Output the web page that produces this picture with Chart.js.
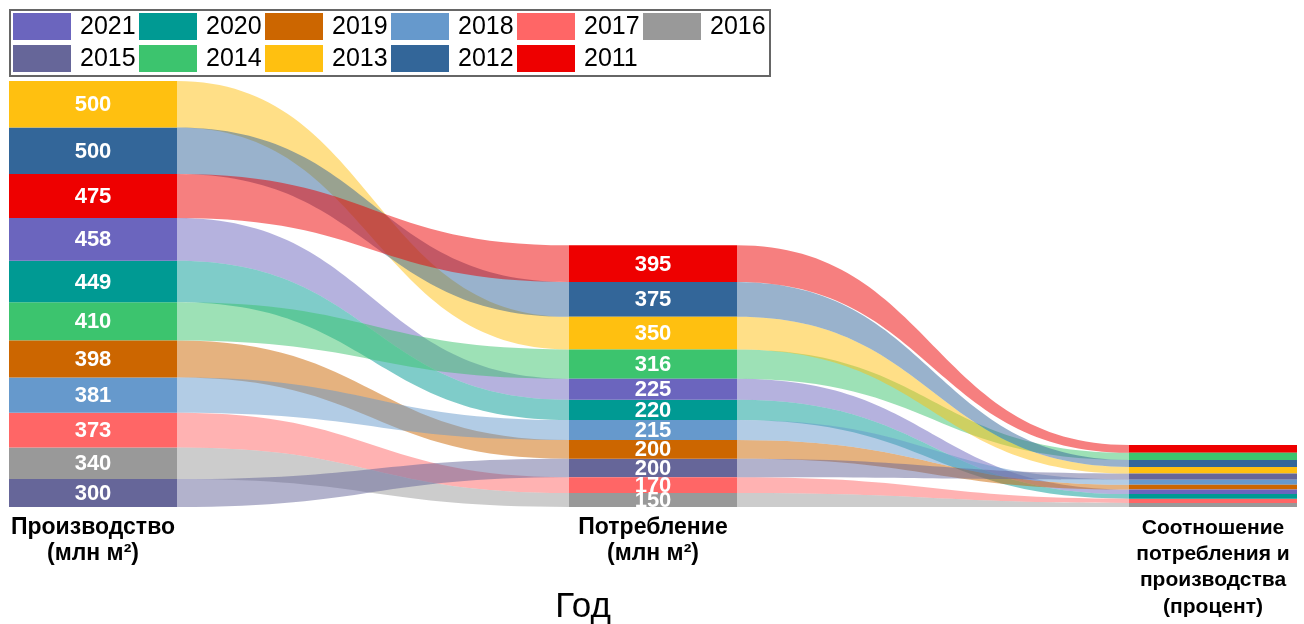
<!DOCTYPE html>
<html>
<head>
<meta charset="utf-8">
<script src="https://cdn.jsdelivr.net/npm/chart.js@4.4.0/dist/chart.umd.min.js"></script>
<style>
  body { margin: 0; background: #fff; }
  #wrap { width: 1304px; height: 624px; position: relative; }
</style>
</head>
<body>
<div id="wrap"><canvas id="grafico"></canvas></div>
<script>
const years = ['2021', '2020', '2019', '2018', '2017', '2016', '2015', '2014', '2013', '2012', '2011'];
const production = [458, 449, 398, 381, 373, 340, 300, 410, 500, 500, 475];
const consumption = [225, 220, 200, 215, 170, 150, 200, 316, 350, 375, 395];
const ratio = [49.1, 49.0, 50.3, 56.4, 45.6, 44.1, 66.7, 77.1, 70.0, 75.0, 83.2];
const columnLabels = [
    ['Производство', '(млн м²)'],
    ['Потребление', '(млн м²)'],
    ['Соотношение', 'потребления и', 'производства', '(процент)']
];
const colors = ['#6b65be', '#009a93', '#cc6600', '#6699cc', '#ff6666', '#999999',
                '#666699', '#3cc46e', '#ffc010', '#336699', '#ee0000'];

const FONT = "'Liberation Sans', Arial, sans-serif";

// stack each column from the bottom, biggest value on top
function ranges(values) {
    const order = values.map((v, i) => i).sort((a, b) => values[b] - values[a] || a - b);
    const out = [];
    let base = 0;
    for (let k = order.length - 1; k >= 0; k--) {
        const i = order[k];
        out[i] = [base, base + values[i]];
        base += values[i];
    }
    return out;
}

const columns = [production, consumption, ratio];
const columnRanges = columns.map(ranges);
const yMax = Math.max(...columns.map(c => c.reduce((s, v) => s + v, 0)));

const datasets = years.map((y, i) => ({
    label: y,
    data: columnRanges.map(r => r[i]),
    backgroundColor: colors[i],
    borderWidth: 0,
    grouped: false,
    clip: false,
    categoryPercentage: 0.3,
    barPercentage: 1
}));

function hexAlpha(hex, a) {
    const n = parseInt(hex.slice(1), 16);
    return `rgba(${n >> 16},${(n >> 8) & 255},${n & 255},${a})`;
}

const flows = {
    id: 'flows',
    beforeDatasetsDraw(chart) {
        const ctx = chart.ctx;
        ctx.save();
        chart.data.datasets.forEach((ds, i) => {
            const bars = chart.getDatasetMeta(i).data;
            for (let j = 0; j < bars.length - 1; j++) {
                const a = bars[j], b = bars[j + 1];
                const x1 = a.x + a.width / 2, x2 = b.x - b.width / 2, xm = (x1 + x2) / 2;
                const t1 = Math.min(a.y, a.base), b1 = Math.max(a.y, a.base);
                const t2 = Math.min(b.y, b.base), b2 = Math.max(b.y, b.base);
                ctx.beginPath();
                ctx.moveTo(x1, t1);
                ctx.bezierCurveTo(xm, t1, xm, t2, x2, t2);
                ctx.lineTo(x2, b2);
                ctx.bezierCurveTo(xm, b2, xm, b1, x1, b1);
                ctx.closePath();
                ctx.fillStyle = hexAlpha(ds.backgroundColor, 0.5);
                ctx.fill();
            }
        });
        ctx.restore();
    },
    afterDatasetsDraw(chart) {
        const ctx = chart.ctx;
        ctx.save();
        ctx.fillStyle = '#fff';
        ctx.font = `bold 22px ${FONT}`;
        ctx.textAlign = 'center';
        ctx.textBaseline = 'middle';
        chart.data.datasets.forEach((ds, i) => {
            const bars = chart.getDatasetMeta(i).data;
            [0, 1].forEach(j => {
                const bar = bars[j];
                ctx.fillText(String(columns[j][i]), bar.x, (bar.y + bar.base) / 2 + 1);
            });
        });
        ctx.restore();
    },
    afterDraw(chart) {
        const ctx = chart.ctx;
        const area = chart.chartArea;
        ctx.save();
        // legend, 6 per row
        ctx.strokeStyle = '#666';
        ctx.lineWidth = 2;
        ctx.strokeRect(10, 10, 760, 66);
        ctx.font = `25px ${FONT}`;
        ctx.textBaseline = 'middle';
        ctx.textAlign = 'left';
        years.forEach((y, i) => {
            const bx = 13 + (i % 6) * 126;
            const by = 13 + Math.floor(i / 6) * 32;
            ctx.fillStyle = colors[i];
            ctx.fillRect(bx, by, 58, 27);
            ctx.fillStyle = '#000';
            ctx.fillText(y, bx + 67, by + 14);
        });
        // axis title
        ctx.font = `35px ${FONT}`;
        ctx.textAlign = 'center';
        ctx.fillText('Год', area.left + (area.right - area.left) * 0.4375, chart.height - 17);
        ctx.restore();
    }
};

new Chart(document.getElementById('grafico'), {
    type: 'bar',
    data: { labels: columnLabels, datasets: datasets },
    options: {
        responsive: true,
        maintainAspectRatio: false,
        animation: false,
        events: [],
        layout: { padding: { left: 93, right: 91, top: 81, bottom: -4 } },
        plugins: {
            legend: { display: false },
            tooltip: { enabled: false }
        },
        scales: {
            x: {
                offset: false,
                grid: { display: false, drawTicks: false },
                border: { display: false },
                ticks: {
                    color: '#000',
                    padding: 8,
                    maxRotation: 0,
                    autoSkip: false,
                    font: c => ({ family: FONT, size: c.index < 2 ? 23 : 21, weight: 'bold', lineHeight: c.index < 2 ? 1.12 : 1.25 })
                }
            },
            y: {
                display: false,
                min: 0,
                max: yMax
            }
        }
    },
    plugins: [flows]
});
</script>
</body>
</html>
